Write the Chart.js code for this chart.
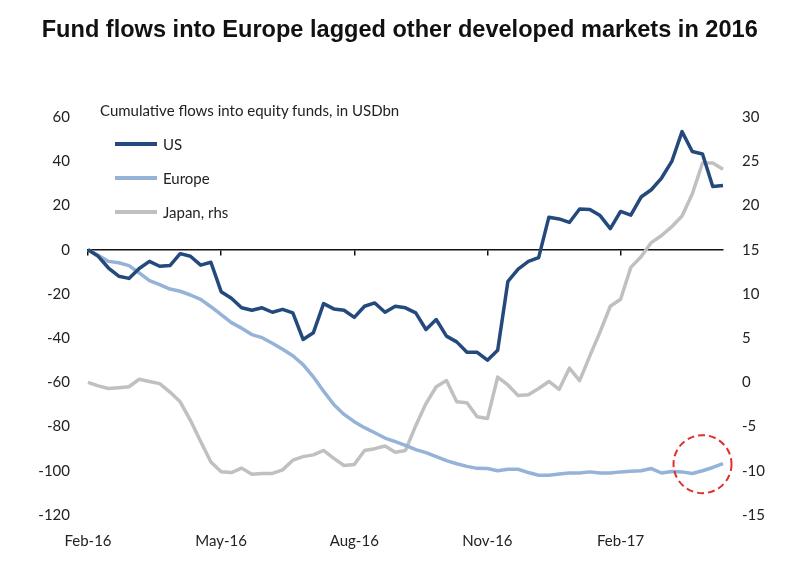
<!DOCTYPE html>
<html>
<head>
<meta charset="utf-8">
<script src="https://cdn.jsdelivr.net/npm/chart.js@4.4.1/dist/chart.umd.min.js"></script>
<style>
  html, body { margin: 0; padding: 0; background: #fff; }
  #wrap { position: relative; width: 800px; height: 563px; }
  #chart { position: absolute; left: 0; top: 0; }
  #title {
    position: absolute; left: 0; top: 15px; width: 800px; text-align: center;
    font: bold 24px "Liberation Sans Narrow", "Liberation Sans", Arial, sans-serif;
    color: #111; white-space: nowrap;
  }
  #title span { display: inline-block; transform-origin: center; }
  #sub {
    position: absolute; left: 100px; top: 101px;
    font: 15px Lato, "Liberation Sans", sans-serif; color: #222; white-space: nowrap;
  }
  .leg { position: absolute; left: 115px; height: 18px; font: 15px Lato, sans-serif; color: #222; }
  .leg i { position: absolute; left: 0; top: 7px; width: 42px; height: 4px; }
  .leg span { position: absolute; left: 48px; top: 0; line-height: 18px; white-space: nowrap; }
</style>
</head>
<body>
<div id="wrap">
  <canvas id="chart" width="800" height="563"></canvas>
  <div id="title"><span>Fund flows into Europe lagged other developed markets in 2016</span></div>
  <div id="sub">Cumulative flows into equity funds, in USDbn</div>
</div>
<script>
// weekly cumulative flows, USD bn (US and Europe on lhs, Japan on rhs)
const us = [0, -3, -8.3, -12, -13, -8.5, -5.3, -7.5, -7.2, -1.8,
  -3, -7, -5.7, -19, -22, -26.3, -27.4, -26.3, -28.3, -27,
  -28.6, -40.6, -37.6, -24.4, -26.8, -27.4, -30.6, -25.6, -24.1, -28.3,
  -25.6, -26.3, -28.6, -36.1, -31.6, -39.1, -41.7, -46.4, -46.4, -50,
  -45.5, -14.3, -8.8, -5.3, -3.6, 14.7, 13.9, 12.3, 18.4, 18.2,
  15.4, 9.5, 17.3, 15.6, 23.8, 27.1, 32.4, 39.9, 53.4, 44.4,
  43.3, 28.6, 29];
const europe = [0, -2.5, -5.3, -5.9, -7.2, -10.5, -14, -15.8, -17.8, -18.8,
  -20.5, -22.5, -25.8, -29.4, -33, -35.5, -38.4, -39.8, -42.3, -45,
  -48, -52, -57.5, -64, -70, -74.5, -77.8, -80.5, -82.8, -85.2,
  -86.8, -88.5, -90.4, -91.8, -93.6, -95.4, -96.8, -98, -98.9, -99,
  -100, -99.3, -99.3, -100.8, -102, -102, -101.5, -101, -101, -100.5,
  -101, -101, -100.5, -100.2, -100, -99, -101, -100.3, -100.5, -101.2,
  -100, -98.5, -96.8];
const japan = [0, -0.4, -0.7, -0.6, -0.5, 0.35, 0.1, -0.15, -1.1, -2.2,
  -4.3, -6.7, -9, -10.1, -10.2, -9.7, -10.4, -10.3, -10.3, -9.9,
  -8.8, -8.4, -8.2, -7.7, -8.6, -9.4, -9.3, -7.7, -7.5, -7.2,
  -7.9, -7.7, -4.9, -2.4, -0.5, 0.2, -2.2, -2.3, -3.9, -4.1,
  0.6, -0.3, -1.5, -1.4, -0.7, 0.1, -0.8, 1.6, 0.2, 3.0,
  5.7, 8.6, 9.4, 13.0, 14.2, 15.8, 16.6, 17.6, 18.8, 21.3,
  24.8, 24.8, 24.1];

// x tick labels and the week they sit on
const tickLabels = ["Feb-16", "May-16", "Aug-16", "Nov-16", "Feb-17"];
const tickWeeks = [0, 13, 26, 39, 52];

// red dashed circle: week index and lhs value
const highlight = { week: 60, value: -97 };

const weeks = [];
const start = new Date(2016, 1, 3);
for (let i = 0; i < us.length; i++) {
  const d = new Date(start.getTime() + i * 7 * 86400000);
  weeks.push(d.toISOString().slice(0, 10));
}

const series = [
  { label: "US", data: us, color: "#24497c", axis: "y" },
  { label: "Europe", data: europe, color: "#95b3d7", axis: "y" },
  { label: "Japan, rhs", data: japan, color: "#c0c0c0", axis: "y1" }
];

const circlePlugin = {
  id: "circle",
  afterDatasetsDraw(chart) {
    const c = chart.ctx;
    const px = chart.scales.x.getPixelForValue(highlight.week);
    const py = chart.scales.y.getPixelForValue(highlight.value);
    c.save();
    c.strokeStyle = "#e0302c";
    c.lineWidth = 2;
    c.setLineDash([7, 4]);
    c.beginPath();
    c.arc(px, py, 29, 0, Math.PI * 2);
    c.stroke();
    c.restore();
  }
};

const tickFont = { family: "Lato, 'Liberation Sans', sans-serif", size: 15 };

const ctx = document.getElementById("chart").getContext("2d");
const chart = new Chart(ctx, {
  type: "line",
  data: {
    labels: weeks,
    datasets: series.map(s => ({
      label: s.label,
      data: s.data,
      yAxisID: s.axis,
      borderColor: s.color,
      borderWidth: 3.5,
      pointRadius: 0,
      tension: 0,
      borderJoinStyle: "round",
      fill: false
    }))
  },
  options: {
    responsive: false,
    animation: false,
    layout: { padding: { top: 117, left: 0, right: 0, bottom: 0 } },
    plugins: { legend: { display: false }, tooltip: { enabled: false } },
    scales: {
      x: {
        type: "category",
        position: "bottom",
        grid: { display: false },
        border: { display: false },
        ticks: {
          autoSkip: false, maxRotation: 0, padding: 9, color: "#222", font: tickFont,
          callback: (v, i) => {
            const k = tickWeeks.indexOf(i);
            return k >= 0 ? tickLabels[k] : "";
          }
        },
        afterFit: s => { s.height = 48; }
      },
      xzero: {
        type: "category",
        axis: "x",
        position: { y: 0 },
        ticks: { display: false },
        grid: {
          drawOnChartArea: false,
          tickLength: 5,
          lineWidth: 1.5,
          tickColor: c => tickWeeks.includes(c.index) ? "#111" : "rgba(0,0,0,0)"
        },
        border: { display: true, color: "#111", width: 1.5 }
      },
      y: {
        position: "left",
        min: -120, max: 60,
        ticks: { stepSize: 20, padding: 18, color: "#222", font: tickFont },
        grid: { display: false, drawTicks: false },
        border: { display: false },
        afterFit: s => { s.width = 88; }
      },
      y1: {
        position: "right",
        min: -15, max: 30,
        ticks: { stepSize: 5, padding: 19, color: "#222", font: tickFont },
        grid: { display: false, drawTicks: false },
        border: { display: false },
        afterFit: s => { s.width = 77; }
      }
    }
  },
  plugins: [circlePlugin]
});

// legend rows
const wrap = document.getElementById("wrap");
series.forEach((s, i) => {
  const row = document.createElement("div");
  row.className = "leg";
  row.style.top = (135 + i * 34) + "px";
  row.innerHTML = '<i style="background:' + s.color + '"></i><span>' + s.label + "</span>";
  wrap.appendChild(row);
});

// fit the title to the reference width
const t = document.querySelector("#title span");
t.style.transform = "scaleX(" + (716 / t.getBoundingClientRect().width) + ")";
</script>
</body>
</html>
